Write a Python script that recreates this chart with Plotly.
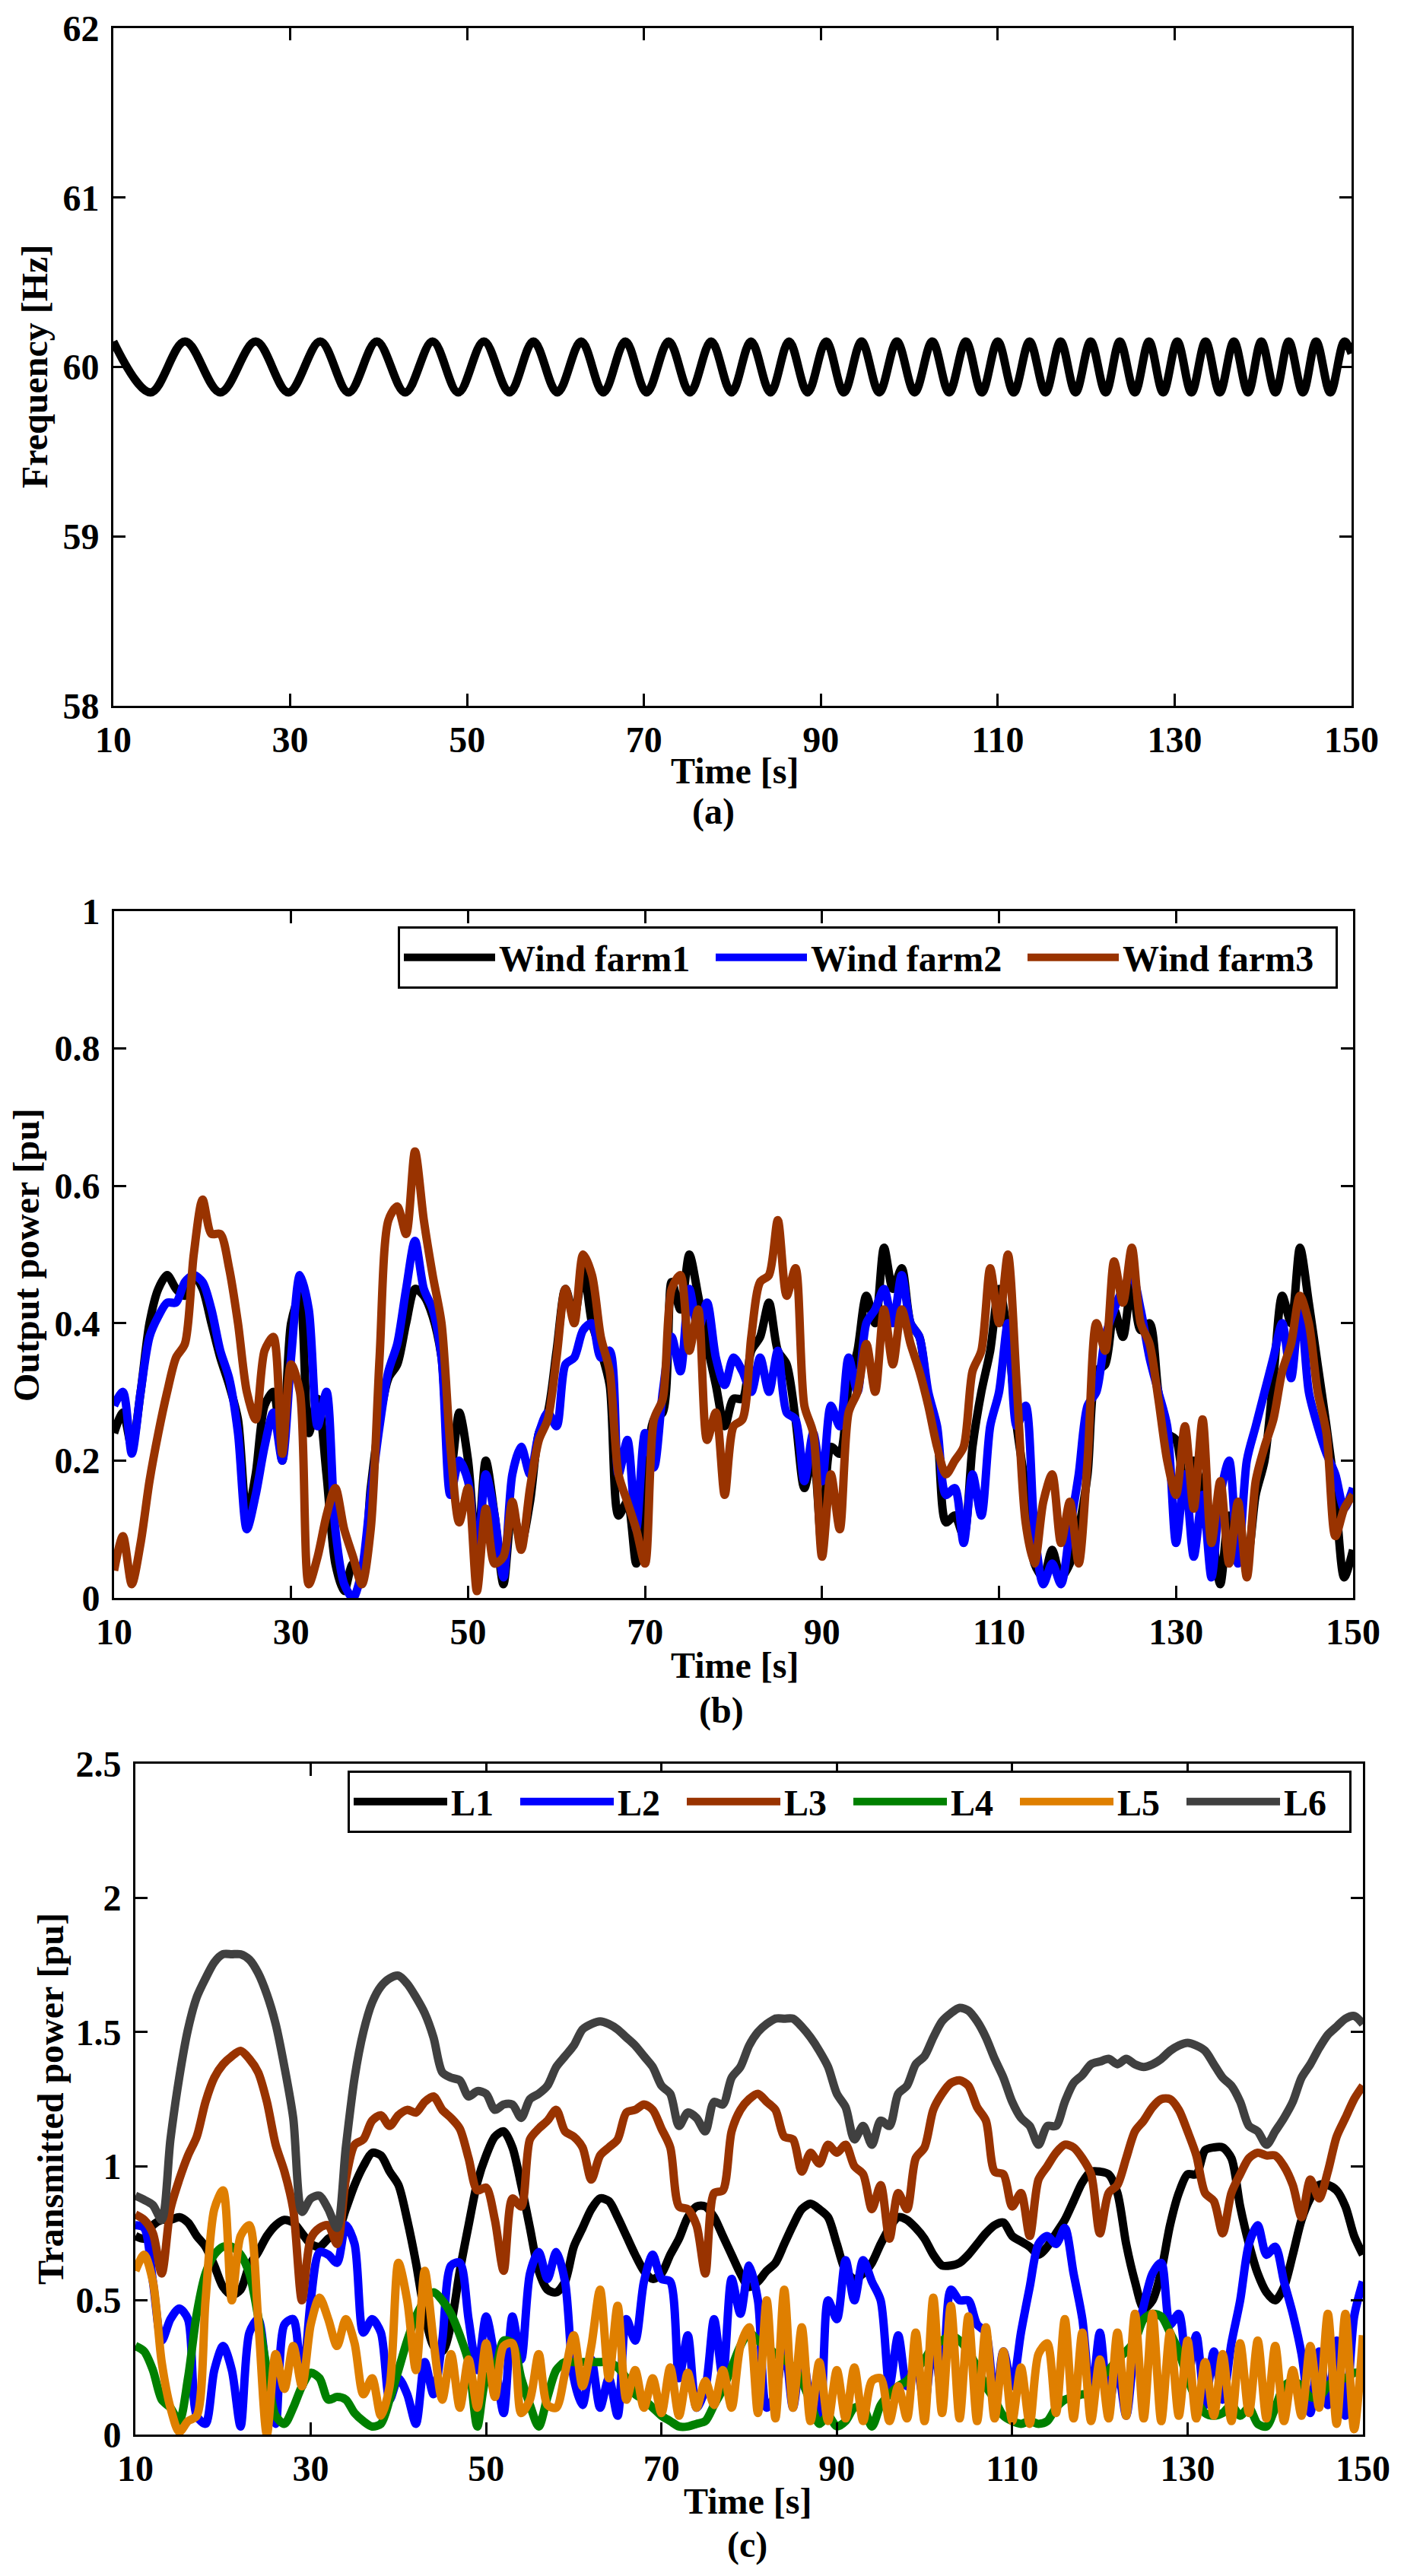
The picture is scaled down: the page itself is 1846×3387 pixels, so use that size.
import plotly.graph_objects as go

# sampling grid of the simulation traces in (b) and (c), 1 s steps
t_sec = list(range(10, 151))

# (a) system frequency - turning points of the oscillation
freq_t = [10.0, 14.2, 18.1, 22.1, 26.1, 29.8, 33.4, 36.6, 39.8, 43.0,
          46.1, 49.0, 51.9, 54.8, 57.5, 60.2, 62.9, 65.4, 67.9, 70.3,
          72.8, 75.2, 77.6, 79.9, 82.1, 84.3, 86.4, 88.5, 90.6, 92.6,
          94.6, 96.6, 98.6, 100.6, 102.6, 104.5, 106.4, 108.2, 110.0, 111.8,
          113.6, 115.4, 117.1, 118.8, 120.5, 122.2, 123.8, 125.5, 127.1, 128.7,
          130.3, 131.9, 133.5, 135.1, 136.7, 138.3, 139.8, 141.4, 142.9, 144.5,
          146.0, 147.6, 149.2, 150.0]
freq_hz = [60.15, 59.85, 60.15, 59.85, 60.15, 59.85, 60.15, 59.85, 60.15, 59.85,
           60.15, 59.85, 60.15, 59.85, 60.15, 59.85, 60.15, 59.85, 60.15, 59.85,
           60.15, 59.85, 60.15, 59.85, 60.15, 59.85, 60.15, 59.85, 60.15, 59.85,
           60.15, 59.85, 60.15, 59.85, 60.15, 59.85, 60.15, 59.85, 60.15, 59.85,
           60.15, 59.85, 60.15, 59.85, 60.15, 59.85, 60.15, 59.85, 60.15, 59.85,
           60.15, 59.85, 60.15, 59.85, 60.15, 59.85, 60.15, 59.85, 60.15, 59.85,
           60.15, 59.85, 60.15, 60.08]

# (b) wind farm output power [pu]
wind_names = ["Wind farm1", "Wind farm2", "Wind farm3"]
wf1 = [0.24, 0.27, 0.22, 0.30, 0.40, 0.45, 0.47, 0.45, 0.44, 0.47,
       0.45, 0.40, 0.35, 0.31, 0.26, 0.12, 0.18, 0.28, 0.30, 0.20,
       0.40, 0.44, 0.24, 0.29, 0.18, 0.05, 0.01, 0.05, 0.04, 0.16,
       0.26, 0.32, 0.34, 0.40, 0.45, 0.44, 0.41, 0.35, 0.18, 0.27,
       0.20, 0.06, 0.20, 0.12, 0.02, 0.13, 0.08, 0.14, 0.24, 0.27,
       0.36, 0.45, 0.41, 0.48, 0.40, 0.36, 0.31, 0.12, 0.14, 0.05,
       0.16, 0.26, 0.27, 0.46, 0.42, 0.50, 0.44, 0.37, 0.31, 0.25,
       0.29, 0.29, 0.36, 0.38, 0.43, 0.36, 0.34, 0.26, 0.16, 0.21,
       0.07, 0.22, 0.21, 0.31, 0.36, 0.44, 0.40, 0.51, 0.45, 0.48,
       0.40, 0.38, 0.29, 0.24, 0.11, 0.12, 0.09, 0.22, 0.30, 0.36,
       0.45, 0.38, 0.25, 0.16, 0.05, 0.03, 0.07, 0.03, 0.05, 0.10,
       0.18, 0.33, 0.34, 0.42, 0.38, 0.46, 0.39, 0.40, 0.30, 0.24,
       0.23, 0.16, 0.20, 0.15, 0.10, 0.02, 0.12, 0.08, 0.06, 0.15,
       0.20, 0.32, 0.44, 0.40, 0.51, 0.43, 0.34, 0.25, 0.15, 0.03,
       0.07]
wf2 = [0.28, 0.30, 0.21, 0.30, 0.38, 0.41, 0.43, 0.43, 0.46, 0.47,
       0.46, 0.42, 0.36, 0.32, 0.24, 0.10, 0.15, 0.22, 0.27, 0.20,
       0.35, 0.47, 0.42, 0.25, 0.30, 0.10, 0.02, 0.00, 0.04, 0.15,
       0.25, 0.33, 0.37, 0.45, 0.52, 0.45, 0.42, 0.35, 0.15, 0.20,
       0.17, 0.05, 0.18, 0.12, 0.03, 0.18, 0.22, 0.18, 0.24, 0.27,
       0.25, 0.34, 0.35, 0.39, 0.40, 0.35, 0.36, 0.18, 0.23, 0.10,
       0.24, 0.19, 0.30, 0.38, 0.33, 0.45, 0.39, 0.43, 0.35, 0.31,
       0.35, 0.33, 0.30, 0.35, 0.30, 0.36, 0.27, 0.26, 0.17, 0.24,
       0.17, 0.28, 0.25, 0.35, 0.30, 0.40, 0.42, 0.45, 0.40, 0.47,
       0.40, 0.38, 0.30, 0.25, 0.15, 0.16, 0.08, 0.18, 0.12, 0.25,
       0.30, 0.40, 0.25, 0.28, 0.10, 0.02, 0.05, 0.02, 0.10, 0.18,
       0.28, 0.30, 0.38, 0.42, 0.45, 0.47, 0.42, 0.35, 0.30, 0.25,
       0.08, 0.18, 0.06, 0.15, 0.03, 0.15, 0.20, 0.05, 0.20, 0.25,
       0.30, 0.35, 0.40, 0.32, 0.43, 0.30, 0.25, 0.21, 0.18, 0.13,
       0.16]
wf3 = [0.04, 0.09, 0.02, 0.08, 0.17, 0.24, 0.30, 0.35, 0.37, 0.50,
       0.58, 0.53, 0.53, 0.48, 0.40, 0.30, 0.26, 0.36, 0.38, 0.21,
       0.34, 0.30, 0.02, 0.06, 0.12, 0.16, 0.10, 0.06, 0.02, 0.10,
       0.35, 0.55, 0.57, 0.53, 0.65, 0.55, 0.47, 0.40, 0.22, 0.11,
       0.16, 0.01, 0.13, 0.05, 0.06, 0.14, 0.07, 0.16, 0.23, 0.26,
       0.35, 0.45, 0.40, 0.50, 0.47, 0.38, 0.33, 0.18, 0.14, 0.10,
       0.05, 0.26, 0.29, 0.45, 0.47, 0.36, 0.42, 0.23, 0.27, 0.15,
       0.25, 0.26, 0.38, 0.46, 0.47, 0.55, 0.44, 0.48, 0.28, 0.24,
       0.06, 0.18, 0.10, 0.27, 0.30, 0.37, 0.30, 0.42, 0.34, 0.42,
       0.37, 0.33, 0.28, 0.22, 0.18, 0.20, 0.22, 0.33, 0.36, 0.48,
       0.40, 0.50, 0.31, 0.11, 0.05, 0.14, 0.18, 0.08, 0.14, 0.05,
       0.20, 0.40, 0.36, 0.49, 0.43, 0.51, 0.40, 0.37, 0.29, 0.20,
       0.15, 0.25, 0.13, 0.26, 0.08, 0.17, 0.05, 0.14, 0.03, 0.17,
       0.22, 0.26, 0.33, 0.37, 0.44, 0.40, 0.30, 0.24, 0.09, 0.13,
       0.15]

# (c) transmitted power on lines L1..L6 [pu]
line_names = ["L1", "L2", "L3", "L4", "L5", "L6"]
L1 = [0.74, 0.73, 0.78, 0.80, 0.80, 0.81, 0.79, 0.74, 0.70, 0.63,
      0.55, 0.52, 0.54, 0.63, 0.68, 0.74, 0.78, 0.80, 0.79, 0.75,
      0.71, 0.70, 0.73, 0.75, 0.84, 0.93, 1.00, 1.05, 1.04, 0.98,
      0.93, 0.80, 0.64, 0.45, 0.33, 0.31, 0.41, 0.61, 0.78, 0.94,
      1.04, 1.11, 1.13, 1.07, 0.93, 0.77, 0.61, 0.54, 0.53, 0.57,
      0.70, 0.77, 0.84, 0.88, 0.87, 0.81, 0.74, 0.67, 0.61, 0.58,
      0.60, 0.67, 0.73, 0.81, 0.85, 0.85, 0.81, 0.74, 0.67, 0.60,
      0.55, 0.57, 0.61, 0.64, 0.71, 0.78, 0.84, 0.86, 0.84, 0.81,
      0.71, 0.61, 0.58, 0.60, 0.64, 0.71, 0.77, 0.81, 0.80, 0.77,
      0.73, 0.67, 0.63, 0.63, 0.64, 0.67, 0.71, 0.75, 0.78, 0.79,
      0.74, 0.72, 0.70, 0.67, 0.70, 0.75, 0.80, 0.87, 0.94, 0.98,
      0.98, 0.97, 0.90, 0.71, 0.57, 0.47, 0.50, 0.61, 0.78, 0.90,
      0.97, 0.97, 1.06, 1.07, 1.07, 1.03, 0.85, 0.71, 0.60, 0.53,
      0.50, 0.55, 0.67, 0.80, 0.88, 0.93, 0.93, 0.91, 0.85, 0.74,
      0.67]
L2 = [0.78, 0.77, 0.57, 0.35, 0.43, 0.47, 0.43, 0.07, 0.04, 0.24,
      0.33, 0.24, 0.03, 0.38, 0.43, 0.21, 0.04, 0.41, 0.43, 0.18,
      0.50, 0.68, 0.67, 0.64, 0.78, 0.71, 0.38, 0.43, 0.38, 0.13,
      0.21, 0.15, 0.04, 0.27, 0.15, 0.35, 0.63, 0.64, 0.43, 0.24,
      0.44, 0.28, 0.08, 0.44, 0.28, 0.60, 0.68, 0.58, 0.68, 0.57,
      0.21, 0.11, 0.28, 0.10, 0.21, 0.07, 0.43, 0.35, 0.57, 0.67,
      0.58, 0.57, 0.21, 0.37, 0.10, 0.17, 0.43, 0.21, 0.58, 0.45,
      0.63, 0.50, 0.10, 0.15, 0.35, 0.10, 0.31, 0.13, 0.07, 0.50,
      0.43, 0.65, 0.50, 0.65, 0.57, 0.50, 0.18, 0.37, 0.18, 0.27,
      0.11, 0.35, 0.15, 0.54, 0.50, 0.50, 0.41, 0.38, 0.10, 0.31,
      0.18, 0.38, 0.55, 0.71, 0.74, 0.71, 0.77, 0.60, 0.43, 0.13,
      0.38, 0.11, 0.25, 0.07, 0.34, 0.48, 0.60, 0.64, 0.41, 0.45,
      0.21, 0.37, 0.11, 0.31, 0.13, 0.34, 0.50, 0.71, 0.78, 0.67,
      0.70, 0.57, 0.45, 0.30, 0.08, 0.31, 0.11, 0.35, 0.07, 0.44,
      0.57]
L3 = [0.82, 0.80, 0.75, 0.60, 0.84, 0.95, 1.04, 1.11, 1.24, 1.33,
      1.38, 1.41, 1.43, 1.40, 1.35, 1.24, 1.08, 0.98, 0.84, 0.50,
      0.73, 0.77, 0.78, 0.71, 0.95, 1.08, 1.10, 1.17, 1.19, 1.15,
      1.19, 1.21, 1.20, 1.24, 1.26, 1.21, 1.18, 1.14, 1.03, 0.91,
      0.92, 0.80, 0.61, 0.88, 0.85, 1.10, 1.14, 1.17, 1.21, 1.13,
      1.11, 1.07, 0.95, 1.04, 1.07, 1.10, 1.20, 1.21, 1.23, 1.21,
      1.14, 1.07, 0.85, 0.84, 0.78, 0.60, 0.90, 0.91, 1.13, 1.21,
      1.25, 1.27, 1.24, 1.21, 1.11, 1.10, 0.98, 1.05, 1.01, 1.08,
      1.05, 1.08, 1.00, 0.97, 0.84, 0.93, 0.73, 0.90, 0.84, 1.03,
      1.07, 1.21, 1.27, 1.31, 1.32, 1.30, 1.22, 1.17, 0.98, 0.97,
      0.85, 0.90, 0.74, 0.95, 1.00, 1.05, 1.08, 1.07, 1.03, 0.97,
      0.75, 0.90, 0.93, 1.03, 1.13, 1.17, 1.22, 1.25, 1.25, 1.21,
      1.13, 1.04, 0.90, 0.87, 0.75, 0.90, 0.97, 1.03, 1.05, 1.04,
      1.04, 1.00, 0.93, 0.81, 0.95, 0.88, 0.98, 1.11, 1.18, 1.25,
      1.30]
L4 = [0.33, 0.31, 0.24, 0.13, 0.10, 0.05, 0.21, 0.45, 0.60, 0.67,
      0.70, 0.70, 0.67, 0.60, 0.44, 0.24, 0.07, 0.04, 0.10, 0.18,
      0.23, 0.21, 0.13, 0.14, 0.13, 0.08, 0.05, 0.03, 0.04, 0.13,
      0.24, 0.35, 0.44, 0.50, 0.53, 0.50, 0.45, 0.37, 0.27, 0.03,
      0.21, 0.24, 0.35, 0.34, 0.21, 0.11, 0.03, 0.14, 0.24, 0.27,
      0.27, 0.27, 0.27, 0.27, 0.27, 0.25, 0.21, 0.15, 0.13, 0.10,
      0.07, 0.05, 0.03, 0.03, 0.04, 0.05, 0.11, 0.17, 0.25, 0.33,
      0.38, 0.35, 0.33, 0.30, 0.28, 0.25, 0.20, 0.12, 0.04, 0.07,
      0.03, 0.05, 0.10, 0.10, 0.03, 0.11, 0.15, 0.18, 0.20, 0.24,
      0.28, 0.33, 0.35, 0.37, 0.35, 0.31, 0.25, 0.18, 0.13, 0.07,
      0.05, 0.04, 0.05, 0.04, 0.05, 0.10, 0.13, 0.14, 0.15, 0.15,
      0.21, 0.24, 0.28, 0.31, 0.35, 0.43, 0.45, 0.44, 0.38, 0.31,
      0.21, 0.13, 0.08, 0.07, 0.08, 0.11, 0.07, 0.10, 0.04, 0.03,
      0.10, 0.18, 0.20, 0.18, 0.14, 0.14, 0.18, 0.21, 0.21, 0.23,
      0.23]
L5 = [0.61, 0.67, 0.57, 0.27, 0.10, 0.01, 0.05, 0.07, 0.50, 0.84,
      0.91, 0.50, 0.74, 0.78, 0.43, 0.00, 0.30, 0.17, 0.33, 0.18,
      0.41, 0.51, 0.43, 0.33, 0.43, 0.34, 0.15, 0.21, 0.07, 0.18,
      0.64, 0.50, 0.24, 0.61, 0.35, 0.13, 0.30, 0.10, 0.28, 0.10,
      0.34, 0.14, 0.33, 0.34, 0.08, 0.13, 0.30, 0.11, 0.10, 0.23,
      0.37, 0.18, 0.33, 0.54, 0.21, 0.48, 0.13, 0.24, 0.10, 0.21,
      0.08, 0.25, 0.07, 0.23, 0.10, 0.20, 0.11, 0.24, 0.10, 0.33,
      0.40, 0.08, 0.50, 0.06, 0.54, 0.10, 0.40, 0.05, 0.27, 0.05,
      0.24, 0.06, 0.25, 0.05, 0.20, 0.21, 0.05, 0.18, 0.06, 0.38,
      0.05, 0.51, 0.08, 0.48, 0.06, 0.44, 0.05, 0.40, 0.06, 0.31,
      0.05, 0.25, 0.04, 0.30, 0.34, 0.08, 0.43, 0.06, 0.38, 0.05,
      0.28, 0.06, 0.38, 0.07, 0.45, 0.06, 0.45, 0.05, 0.38, 0.07,
      0.35, 0.06, 0.27, 0.07, 0.30, 0.05, 0.34, 0.08, 0.35, 0.06,
      0.33, 0.05, 0.24, 0.07, 0.33, 0.10, 0.45, 0.04, 0.45, 0.02,
      0.37]
L6 = [0.89, 0.875, 0.855, 0.80, 1.10, 1.33, 1.51, 1.63, 1.70, 1.76,
      1.79, 1.79, 1.79, 1.77, 1.72, 1.64, 1.53, 1.37, 1.18, 0.83,
      0.88, 0.89, 0.84, 0.77, 1.07, 1.33, 1.50, 1.61, 1.67, 1.70,
      1.71, 1.68, 1.63, 1.57, 1.48, 1.35, 1.33, 1.32, 1.26, 1.28,
      1.27, 1.21, 1.23, 1.23, 1.18, 1.25, 1.27, 1.30, 1.37, 1.41,
      1.45, 1.51, 1.53, 1.54, 1.53, 1.51, 1.48, 1.45, 1.41, 1.37,
      1.30, 1.27, 1.15, 1.20, 1.18, 1.13, 1.24, 1.23, 1.33, 1.37,
      1.45, 1.50, 1.53, 1.55, 1.55, 1.55, 1.52, 1.48, 1.43, 1.37,
      1.27, 1.22, 1.10, 1.15, 1.08, 1.17, 1.15, 1.27, 1.30, 1.38,
      1.41, 1.48, 1.54, 1.57, 1.59, 1.58, 1.54, 1.48, 1.40, 1.33,
      1.24, 1.18, 1.15, 1.08, 1.15, 1.15, 1.24, 1.31, 1.34, 1.38,
      1.39, 1.40, 1.38, 1.40, 1.38, 1.37, 1.38, 1.40, 1.43, 1.45,
      1.46, 1.45, 1.43, 1.38, 1.33, 1.30, 1.24, 1.15, 1.13, 1.08,
      1.13, 1.18, 1.24, 1.33, 1.38, 1.44, 1.49, 1.52, 1.55, 1.56,
      1.53]

wind_colors = ["#000000", "#0000ff", "#993300"]
line_colors = ["#000000", "#0000ff", "#993300", "#008000", "#df7f00", "#404040"]

W, H = 1846, 3387
LW = 11
FONT = "Liberation Serif"
FS = 48


def fx(px):
    return px / W


def fy(px):
    return 1 - px / H


fig = go.Figure()

# (a)
fig.add_trace(go.Scatter(x=freq_t, y=freq_hz, mode="lines", showlegend=False,
                         line=dict(color="black", width=LW, shape="spline"),
                         xaxis="x", yaxis="y"))

# (b)
for name, vals, col in zip(wind_names, [wf1, wf2, wf3], wind_colors):
    fig.add_trace(go.Scatter(x=t_sec, y=vals, name=name, mode="lines",
                             line=dict(color=col, width=LW, shape="spline", smoothing=0.8),
                             xaxis="x2", yaxis="y2", legend="legend"))

# (c)
for name, vals, col in zip(line_names, [L1, L2, L3, L4, L5, L6], line_colors):
    fig.add_trace(go.Scatter(x=t_sec, y=vals, name=name, mode="lines",
                             line=dict(color=col, width=LW, shape="spline", smoothing=0.8),
                             xaxis="x3", yaxis="y3", legend="legend2"))

tick_font = dict(family=FONT, size=FS, color="black", weight="bold")
frame = dict(showline=True, linecolor="black", linewidth=3, mirror="ticks",
             ticks="inside", ticklen=16, tickwidth=3, tickcolor="black",
             showgrid=False, zeroline=False, automargin=False, tickfont=tick_font)

xcommon = dict(frame, range=[10, 150], tick0=10, dtick=20, ticklabelstandoff=0)
ycommon = dict(frame, ticklabelstandoff=6)

leg_font = dict(family=FONT, size=FS, color="black", weight="bold")

fig.update_layout(
    width=W, height=H,
    margin=dict(l=0, r=0, t=0, b=0, autoexpand=False),
    paper_bgcolor="white", plot_bgcolor="white",
    xaxis=dict(xcommon, domain=[fx(149), fx(1777)], anchor="y"),
    yaxis=dict(ycommon, domain=[fy(928), fy(37)], range=[58, 62], dtick=1, anchor="x"),
    xaxis2=dict(xcommon, domain=[fx(150), fx(1779)], anchor="y2"),
    yaxis2=dict(ycommon, domain=[fy(2101), fy(1198)], range=[0, 1], dtick=0.2, anchor="x2"),
    xaxis3=dict(xcommon, domain=[fx(178), fx(1792)], anchor="y3"),
    yaxis3=dict(ycommon, domain=[fy(3201), fy(2319)], range=[0, 2.5], dtick=0.5, anchor="x3"),
    legend=dict(x=fx(523), y=fy(1218), xanchor="left", yanchor="top",
                orientation="h", bgcolor="white", bordercolor="black", borderwidth=3,
                font=leg_font, itemwidth=120, entrywidth=275),
    legend2=dict(x=fx(457), y=fy(2328), xanchor="left", yanchor="top",
                 orientation="h", bgcolor="white", bordercolor="black", borderwidth=3,
                 font=leg_font, itemwidth=123, entrywidth=81),
)

# axis titles and panel captions
texts = [
    ("Frequency [Hz]", 45, 482, -90),
    ("Time [s]", 966, 1013, 0),
    ("(a)", 938, 1067, 0),
    ("Output power [pu]", 34, 1650, -90),
    ("Time [s]", 966, 2189, 0),
    ("(b)", 948, 2249, 0),
    ("Transmitted power [pu]", 66, 2760, -90),
    ("Time [s]", 983, 3288, 0),
    ("(c)", 982, 3346, 0),
]
for txt, px_, py_, ang in texts:
    fig.add_annotation(text=txt, x=fx(px_), y=fy(py_), xref="paper", yref="paper",
                       xanchor="center", yanchor="middle", textangle=ang, showarrow=False,
                       font=dict(family=FONT, size=FS, color="black", weight="bold"))

fig.write_html("out.html", config={"displayModeBar": False},
               post_script="document.body.style.margin='0';")
